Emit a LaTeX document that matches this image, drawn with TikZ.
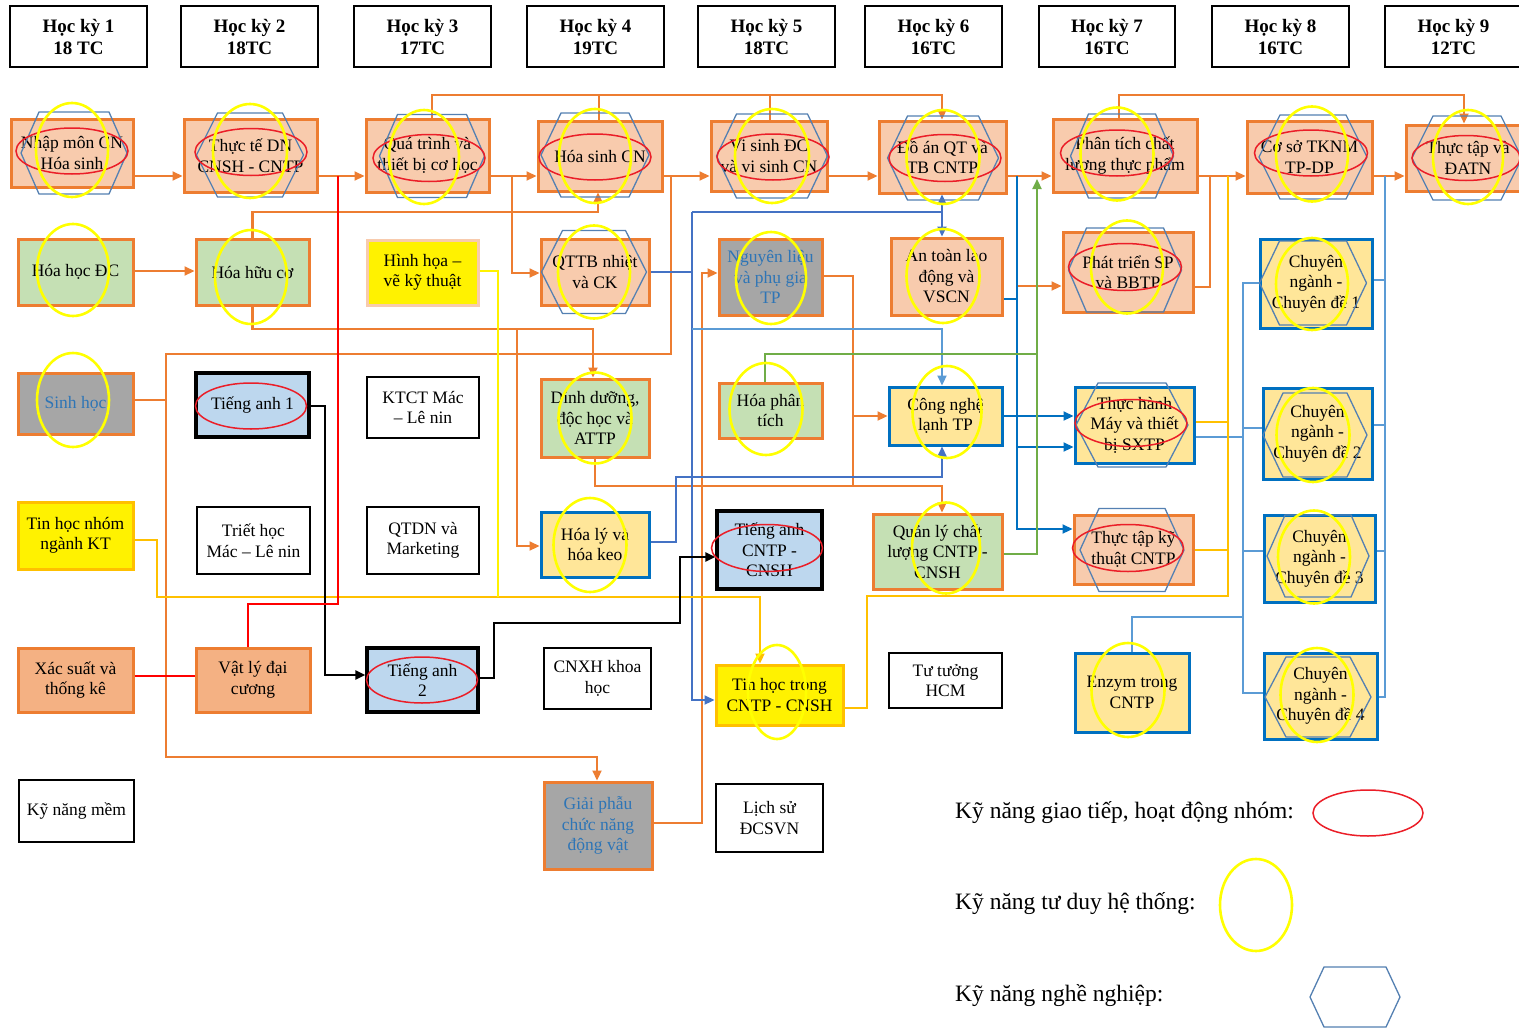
\documentclass[tikz,border=0pt]{standalone}
\usepackage{fontspec}
\setmainfont{Liberation Serif}
\usetikzlibrary{arrows.meta}
\definecolor{peach}{RGB}{248,203,173}
\definecolor{orn}{RGB}{237,125,49}
\definecolor{grn}{RGB}{197,224,180}
\definecolor{gry}{RGB}{166,166,166}
\definecolor{lyel}{RGB}{255,230,153}
\definecolor{lblue}{RGB}{189,215,238}
\definecolor{ornf}{RGB}{244,177,131}
\definecolor{dblue}{RGB}{0,112,192}
\definecolor{mblue}{RGB}{68,114,196}
\definecolor{sblue}{RGB}{91,155,213}
\definecolor{gold}{RGB}{255,192,0}
\definecolor{lgreen}{RGB}{112,173,71}
\definecolor{txtblue}{RGB}{46,117,182}
\definecolor{hexc}{RGB}{84,128,178}
\definecolor{ovred}{RGB}{235,30,40}
\definecolor{ovyel}{RGB}{255,255,0}
\tikzset{
 bx/.style={rectangle, inner sep=0pt, align=center, font=\fontsize{17.5}{20.5}\selectfont},
 cpeach/.style={bx, fill=peach, draw=orn, line width=3pt},
 cgreen/.style={bx, fill=grn, draw=orn, line width=3pt},
 cgray/.style={bx, fill=gry, draw=orn, line width=3pt, text=txtblue},
 cyel/.style={bx, fill=yellow, draw=gold, line width=3pt},
 chh/.style={bx, fill=yellow, draw=peach, line width=3pt},
 clyel/.style={bx, fill=lyel, draw=dblue, line width=3pt},
 clblue/.style={bx, fill=lblue, draw=black, line width=3.2pt},
 corn/.style={bx, fill=ornf, draw=orn, line width=3pt},
 cwhite/.style={bx, fill=white, draw=black, line width=1.4pt},
 hdr/.style={bx, fill=white, draw=black, line width=1.4pt, font=\bfseries\fontsize{19}{22}\selectfont},
 Lor/.style={draw=orn, line width=2.2pt},
 Lmb/.style={draw=mblue, line width=2.2pt},
 Lsb/.style={draw=sblue, line width=2.2pt},
 Ldb/.style={draw=dblue, line width=2.2pt},
 Lgr/.style={draw=lgreen, line width=2.2pt},
 Lgd/.style={draw=gold, line width=2.2pt},
 Lyl/.style={draw=yellow, line width=2.2pt},
 Lbk/.style={draw=black, line width=2.8pt},
 Lrd/.style={draw=red, line width=2.4pt},
 arw/.style={-{Triangle[length=10pt,width=9pt]}},
 ovr/.style={draw=ovred, line width=1.5pt},
 ovy/.style={draw=ovyel, line width=2.6pt},
 ovh/.style={draw=hexc, line width=1.3pt},
 lgd/.style={anchor=west, inner sep=0pt, font=\fontsize{23.5}{27}\selectfont}
}
\newcommand\mkbox[7]{%
  \pgfmathsetmacro\mbx{(#3+#5)/2}%
  \pgfmathsetmacro\mby{(#4+#6)/2}%
  \pgfmathsetmacro\mbw{#5-#3}%
  \pgfmathsetmacro\mbh{#6-#4}%
  \node[#2, minimum width=\mbw pt, minimum height=\mbh pt] (#1) at (\mbx,\mby) {#7};}
\newcommand\hexo[5]{\draw[ovh] ({#1-#3},#2) -- ({#1-#3+#5},{#2-#4}) -- ({#1+#3-#5},{#2-#4}) -- ({#1+#3},#2) -- ({#1+#3-#5},{#2+#4}) -- ({#1-#3+#5},{#2+#4}) -- cycle;}
\newcommand\elr[4]{\draw[ovr] (#1,#2) ellipse [x radius=#3pt, y radius=#4pt];}
\newcommand\ely[4]{\draw[ovy] (#1,#2) ellipse [x radius=#3pt, y radius=#4pt];}
\begin{document}
\begin{tikzpicture}[x=1pt,y=-1pt]
\clip (0,0) rectangle (1519,1028);
\fill[white] (0,0) rectangle (1519,1028);
\foreach \v in {95,176,179,212,271,272,273,276,280,283,286,287,299,329,354,400,406,416,422,425,428,437,447,477,486,529,540,542,546,550,551,554,557,596,597,604,617,623,675,676,678,693,697,700,708,757,823}{\coordinate (h\v) at (0,\v);}
\foreach \v in {157,166,248,325,338,432,494,498,512,517,593,597,598,599,671,676,680,692,702,760,765,770,853,867,942,1017,1037,1119,1210,1228,1243,1385,1464}{\coordinate (v\v) at (\v,0);}
% ---------- nodes (drawn first into names; lines drawn behind via layers order below)
\begin{scope}[on background layer/.style={}]
\end{scope}
% headers
\mkbox{H1}{hdr}{10}{6}{147}{67}{Học kỳ 1\\18 TC}
\mkbox{H2}{hdr}{181}{6}{318}{67}{Học kỳ 2\\18TC}
\mkbox{H3}{hdr}{354}{6}{491}{67}{Học kỳ 3\\17TC}
\mkbox{H4}{hdr}{527}{6}{664}{67}{Học kỳ 4\\19TC}
\mkbox{H5}{hdr}{698}{6}{835}{67}{Học kỳ 5\\18TC}
\mkbox{H6}{hdr}{865}{6}{1002}{67}{Học kỳ 6\\16TC}
\mkbox{H7}{hdr}{1039}{6}{1175}{67}{Học kỳ 7\\16TC}
\mkbox{H8}{hdr}{1212}{6}{1349}{67}{Học kỳ 8\\16TC}
\mkbox{H9}{hdr}{1385}{6}{1522}{67}{Học kỳ 9\\12TC}
% row 1
\mkbox{A1}{cpeach}{11}{119}{133}{187}{Nhập môn CN\\Hóa sinh}
\mkbox{A2}{cpeach}{184}{119}{317}{192}{Thực tế DN\\CNSH - CNTP}
\mkbox{A3}{cpeach}{366}{119}{489}{192}{Quá trình và\\thiết bị cơ học}
\mkbox{A4}{cpeach}{538}{121}{662}{191}{Hóa sinh CN}
\mkbox{A5}{cpeach}{711}{121}{827}{191}{Vi sinh ĐC\\và vi sinh CN}
\mkbox{A6}{cpeach}{879}{121}{1006}{193}{Đồ án QT và\\TB CNTP}
\mkbox{A7}{cpeach}{1053}{119}{1197}{192}{Phân tích chất\\lượng thực phẩm}
\mkbox{A8}{cpeach}{1247}{121}{1372}{193}{Cơ sở TKNM\\TP-DP}
\mkbox{A9}{cpeach}{1406}{125}{1530}{191}{Thực tập và\\ĐATN}
% row 2
\mkbox{B1}{cgreen}{18}{239}{133}{305}{Hóa học ĐC}
\mkbox{B2}{cgreen}{196}{239}{309}{305}{Hóa hữu cơ}
\mkbox{B3}{chh}{367}{240}{478}{305}{Hình họa –\\vẽ kỹ thuật}
\mkbox{B4}{cpeach}{541}{239}{649}{305}{QTTB nhiệt\\và CK}
\mkbox{B5}{cgray}{719}{239}{822}{315}{Nguyên liệu\\và phụ gia\\TP}
\mkbox{B6}{cpeach}{891}{238}{1002}{315}{An toàn lao\\động và\\VSCN}
\mkbox{B7}{cpeach}{1063}{232}{1193}{312}{Phát triển SP\\và BBTP}
\mkbox{B8}{clyel}{1260}{239}{1372}{328}{Chuyên\\ngành -\\Chuyên đề 1}
% row 3
\mkbox{C1}{cgray}{18}{373}{133}{434}{Sinh học}
\mkbox{C2}{clblue}{196}{373}{309}{437}{Tiếng anh 1}
\mkbox{C3}{cwhite}{367}{377}{479}{438}{KTCT Mác\\– Lê nin}
\mkbox{C4}{cgreen}{541}{379}{649}{457}{Dinh dưỡng,\\độc học và\\ATTP}
\mkbox{C5}{cgreen}{719}{383}{822}{438}{Hóa phân\\tích}
\mkbox{C6}{clyel}{889}{387}{1002}{445}{Công nghệ\\lạnh TP}
\mkbox{C7}{clyel}{1075}{387}{1194}{463}{Thực hành\\Máy và thiết\\bị SXTP}
\mkbox{C8}{clyel}{1263}{388}{1372}{479}{Chuyên\\ngành -\\Chuyên đề 2}
% row 4
\mkbox{D1}{cyel}{18}{502}{133}{569}{Tin học nhóm\\ngành KT}
\mkbox{D2}{cwhite}{197}{507}{310}{574}{Triết học\\Mác – Lê nin}
\mkbox{D3}{cwhite}{367}{507}{479}{574}{QTDN và\\Marketing}
\mkbox{D4}{clyel}{541}{512}{649}{577}{Hóa lý và\\hóa keo}
\mkbox{D5}{clblue}{717}{511}{822}{589}{Tiếng anh\\CNTP -\\CNSH}
\mkbox{D6}{cgreen}{873}{514}{1002}{589}{Quản lý chất\\lượng CNTP -\\CNSH}
\mkbox{D7}{cpeach}{1074}{515}{1193}{584}{Thực tập kỹ\\thuật CNTP}
\mkbox{D8}{clyel}{1264}{515}{1375}{602}{Chuyên\\ngành -\\Chuyên đề 3}
% row 5
\mkbox{E1}{corn}{18}{648}{133}{712}{Xác suất và\\thống kê}
\mkbox{E2}{corn}{196}{648}{310}{712}{Vật lý đại\\cương}
\mkbox{E3}{clblue}{367}{648}{478}{712}{Tiếng anh\\2}
\mkbox{E4}{cwhite}{544}{648}{651}{709}{CNXH khoa\\học}
\mkbox{E5}{cyel}{716}{665}{843}{725}{Tin học trong\\CNTP - CNSH}
\mkbox{E6}{cwhite}{889}{653}{1002}{708}{Tư tưởng\\HCM}
\mkbox{E7}{clyel}{1075}{653}{1189}{732}{Enzym trong\\CNTP}
\mkbox{E8}{clyel}{1264}{653}{1377}{739}{Chuyên\\ngành -\\Chuyên đề 4}
% row 6
\mkbox{F1}{cwhite}{19}{780}{134}{842}{Kỹ năng mềm}
\mkbox{F2}{cgray}{544}{782}{652}{869}{Giải phẫu\\chức năng\\động vật}
\mkbox{F3}{cwhite}{716}{784}{823}{852}{Lịch sử\\ĐCSVN}
% ---------- connectors
% orange
\draw[Lor,arw] (A1.east|-h176) -- (A2.west|-h176);
\draw[Lor,arw] (A2.east|-h176) -- (A3.west|-h176);
\draw[Lor,arw] (A3.east|-h176) -- (A4.west|-h176);
\draw[Lor,arw] (v512|-h176) -- (v512|-h273) -- (B4.west|-h273);
\draw[Lor,arw] (A4.east|-h176) -- (A5.west|-h176);
\draw[Lor,arw] (A5.east|-h176) -- (A6.west|-h176);
\draw[Lor,arw] (A6.east|-h176) -- (A7.west|-h176);
\draw[Lor,arw] (A7.east|-h176) -- (A8.west|-h176);
\draw[Lor,arw] (A8.east|-h176) -- (A9.west|-h176);
\draw[Lor,arw] (v432|-A3.north) |- (v942|-h95) -- (v942|-A6.north);
\draw[Lor] (v599|-h95) -- (v599|-A4.north);
\draw[Lor] (v770|-h95) -- (v770|-A5.north);
\draw[Lor,arw] (v1119|-A7.north) |- (v1464|-h95) -- (v1464|-A9.north);
\draw[Lor,arw] (B1.east|-h271) -- (B2.west|-h271);
\draw[Lor,arw] (B2.north) |- (v598|-h212) -- (v598|-A4.south);
\draw[Lor,arw] (B2.south) |- (v593|-h329) -- (v593|-C4.north);
\draw[Lor,arw] (v517|-h329) |- (D4.west|-h546);
\draw[Lor,arw] (v671|-h176) |- (v166|-h354) |- (v597|-h757) -- (v597|-F2.north);
\draw[Lor] (C1.east|-h400) -- (v166|-h400);
\draw[Lor,arw] (F2.east|-h823) -| (v702|-h273) -- (B5.west|-h273);
\draw[Lor] (B5.east|-h276) -| (v853|-h486);
\draw[Lor,arw] (v853|-h416) -- (C6.west|-h416);
\draw[Lor,arw] (C4.south) |- (v942|-h486) -- (v942|-D6.north);
\draw[Lor,arw] (v1017|-h176) |- (B7.west|-h286);
\draw[Lor] (B7.east|-h287) -| (v1210|-h176);
% blue
\draw[Lmb] (B4.east|-h272) -- (v692|-h272);
\draw[Lmb,arw] (v692|-h212) |- (E5.west|-h700);
\draw[Lmb] (v692|-h212) -- (v942|-h212);
\draw[Lmb,arw] (v942|-h212) -- (v942|-A6.south);
\draw[Lmb,arw] (v942|-h212) -- (v942|-B6.north);
\draw[Lsb,arw] (v692|-h329) -| (v942|-C6.north);
\draw[Lmb,arw] (D4.east|-h542) -| (v676|-h477) -| (v942|-C6.south);
\draw[Ldb,arw] (v1017|-h176) |- (D7.west|-h529);
\draw[Ldb] (B6.east|-h299) -- (v1017|-h299);
\draw[Ldb,arw] (C6.east|-h416) -- (C7.west|-h416);
\draw[Ldb,arw] (v1017|-h447) -- (C7.west|-h447);
\draw[Lsb] (B8.west|-h283) -| (v1243|-h693) -- (E8.west|-h693);
\draw[Lsb] (v1243|-h428) -- (C8.west|-h428);
\draw[Lsb] (v1243|-h551) -- (D8.west|-h551);
\draw[Lsb] (C7.east|-h437) -- (v1243|-h437);
\draw[Lsb] (v1243|-h617) -| (E7.north);
\draw[Lsb] (v1385|-h176) |- (E8.east|-h697);
\draw[Lsb] (B8.east|-h280) -- (v1385|-h280);
\draw[Lsb] (C8.east|-h425) -- (v1385|-h425);
\draw[Lsb] (D8.east|-h551) -- (v1385|-h551);
% green
\draw[Lgr] (v765|-C5.north) |- (v1037|-h354);
\draw[Lgr,arw] (D6.east|-h554) -| (v1037|-h179);
% gold / yellow
\draw[Lgd,arw] (D1.east|-h540) -| (v157|-h597) -| (v760|-E5.north);
\draw[Lyl] (B3.east|-h271) -| (v498|-h597);
\draw[Lgd] (E5.east|-h708) -| (v867|-h596) -| (v1228|-h176);
\draw[Lgd] (C7.east|-h422) -- (v1228|-h422);
\draw[Lgd] (D7.east|-h550) -- (v1228|-h550);
% black
\draw[Lbk,arw] (C2.east|-h406) -| (v325|-h675) -- (E3.west|-h675);
\draw[Lbk,arw] (E3.east|-h678) -| (v494|-h623) -| (v680|-h557) -- (D5.west|-h557);
% red
\draw[Lrd] (E1.east|-h676) -- (E2.west|-h676);
\draw[Lrd] (v248|-E2.north) |- (v338|-h604) -- (v338|-h176);
% ---------- overlays: hexagons
\hexo{74}{153}{53}{41}{18}
\hexo{250}{155}{53.5}{42}{21}
\hexo{432}{156}{52.5}{41.5}{18}
\hexo{595}{155}{54}{42}{20}
\hexo{772}{156}{55.5}{42}{20}
\hexo{943}{158}{55.5}{42}{20}
\hexo{1122}{156}{51.5}{42}{18}
\hexo{1313}{157}{54}{42}{21}
\hexo{1467}{158}{55}{42}{21}
\hexo{594}{272}{52.5}{41.5}{21}
\hexo{1125}{270}{56.5}{42}{18}
\hexo{1313}{283}{53.5}{42}{20}
\hexo{1132}{425}{56}{42}{22}
\hexo{1315}{435}{52}{42}{20}
\hexo{1132}{550}{52}{41.5}{19}
\hexo{1318}{556}{51}{41}{18}
\hexo{1318}{697}{53}{40}{21}
% red ellipses
\elr{72}{151}{56}{23}
\elr{251}{152}{56}{23.5}
\elr{429}{158}{56}{23.5}
\elr{595}{157}{56}{23}
\elr{773}{157}{56}{23}
\elr{945}{158}{56}{23.5}
\elr{1117}{153}{56.5}{23}
\elr{1311}{153}{56.5}{23}
\elr{1466}{158}{54}{22.5}
\elr{1125}{267}{56.5}{23.5}
\elr{251}{406}{55.5}{23}
\elr{1131}{423}{56}{23.5}
\elr{767}{548}{55.5}{23.5}
\elr{1128}{548}{55.5}{23.5}
\elr{422}{680}{55.5}{23}
% yellow ellipses
\ely{72}{150}{36}{47}
\ely{250}{151}{37}{47}
\ely{424}{157}{35}{47}
\ely{595}{156}{36}{47}
\ely{772}{156}{37}{47}
\ely{943}{157}{36.5}{47}
\ely{1117}{154}{36.5}{46.5}
\ely{1312}{154}{36}{47.5}
\ely{1468}{157}{35}{47}
\ely{73}{270}{36}{46}
\ely{251}{277}{36}{47}
\ely{594}{272}{36}{46.5}
\ely{771}{278}{35}{46}
\ely{943}{276}{36.5}{47}
\ely{1127}{267}{36}{46.5}
\ely{1312}{284}{36}{46}
\ely{73}{400}{36}{47}
\ely{595}{418}{36.5}{45.5}
\ely{766}{409}{36.5}{46}
\ely{947}{412}{34.5}{46}
\ely{1313}{435}{36.5}{47}
\ely{590}{545}{36.5}{47}
\ely{946}{548}{34}{45.5}
\ely{1314}{557}{36}{46.5}
\ely{777}{692}{29}{47}
\ely{1128}{690}{36.5}{47}
\ely{1317}{695}{36.5}{47}
% ---------- legend
\node[lgd] (L1) at (955,813) {Kỹ năng giao tiếp, hoạt động nhóm:};
\node[lgd] (L2) at (955,904) {Kỹ năng tư duy hệ thống:};
\node[lgd] (L3) at (955,996) {Kỹ năng nghề nghiệp:};
\elr{1368}{813}{55}{23}
\ely{1256}{905}{36}{46}
\hexo{1355}{997}{45}{30}{14}
\end{tikzpicture}
\end{document}
